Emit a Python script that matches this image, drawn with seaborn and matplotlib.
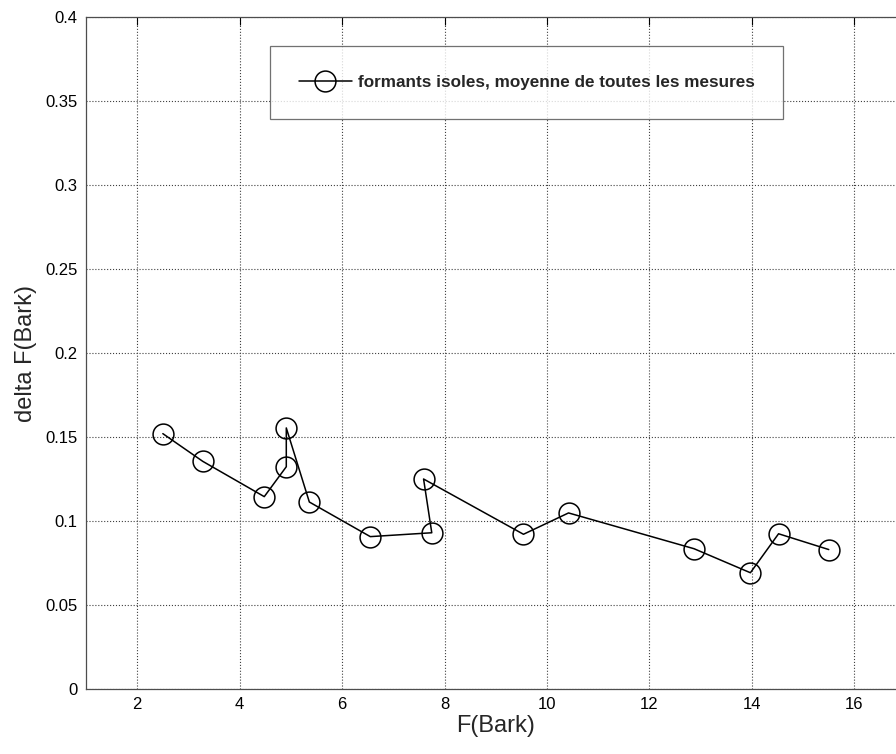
import matplotlib
matplotlib.use("Agg")
import matplotlib.pyplot as plt
import seaborn as sns
import pandas as pd

# formant frequency (Bark) and measured delta F (Bark), in plotting order
f_bark = [2.50, 3.28, 4.48, 4.91, 4.91, 5.36, 6.55, 7.75, 7.59, 9.54, 10.42, 12.87, 13.97, 14.52, 15.50]
delta_f = [0.152, 0.1355, 0.1145, 0.1323, 0.1554, 0.1113, 0.0907, 0.093, 0.125, 0.0921, 0.1048, 0.0835, 0.0692, 0.0924, 0.0830]
legend_label = "formants isoles, moyenne de toutes les mesures"

df = pd.DataFrame({"F": f_bark, "dF": delta_f})

sns.set_style("white")
plt.rcParams["font.family"] = ["Liberation Sans", "DejaVu Sans"]

fig = plt.figure(figsize=(8.96, 7.54), dpi=100)
# axes runs past the right edge, like the cropped original
ax = fig.add_axes([86 / 896, 1 - 689 / 754, 819.6 / 896, 672 / 754])

sns.lineplot(data=df, x="F", y="dF", sort=False, estimator=None, ax=ax,
             color="black", linewidth=1.1, marker="o", markersize=15,
             markerfacecolor="none", markeredgecolor="black", markeredgewidth=1.1,
             label=legend_label)

ax.set_xlim(1, 17)
ax.set_ylim(0, 0.4)
ax.set_xticks([2, 4, 6, 8, 10, 12, 14, 16])
ax.set_yticks([0, 0.05, 0.1, 0.15, 0.2, 0.25, 0.3, 0.35, 0.4])
ax.set_yticklabels(["0", "0.05", "0.1", "0.15", "0.2", "0.25", "0.3", "0.35", "0.4"])
ax.grid(True, linestyle=":", color="0.25", linewidth=0.8)
ax.tick_params(direction="in", length=6, width=0.8, labelsize=12, pad=6,
               top=True, right=True, colors="black")
for s in ax.spines.values():
    s.set_color("0.3")
    s.set_linewidth(0.9)

ax.set_xlabel("F(Bark)", fontsize=17, labelpad=2)
ax.set_ylabel("delta F(Bark)", fontsize=17, labelpad=6)

leg = ax.legend(loc="upper left", bbox_to_anchor=(0.224, 0.957), borderaxespad=0,
                frameon=True, fancybox=False, edgecolor="0.3", handlelength=3.1,
                handletextpad=0.35, borderpad=1.7,
                prop={"size": 12.3, "weight": "bold"})
leg.get_frame().set_linewidth(0.9)

fig.savefig("out.png", dpi=100)
